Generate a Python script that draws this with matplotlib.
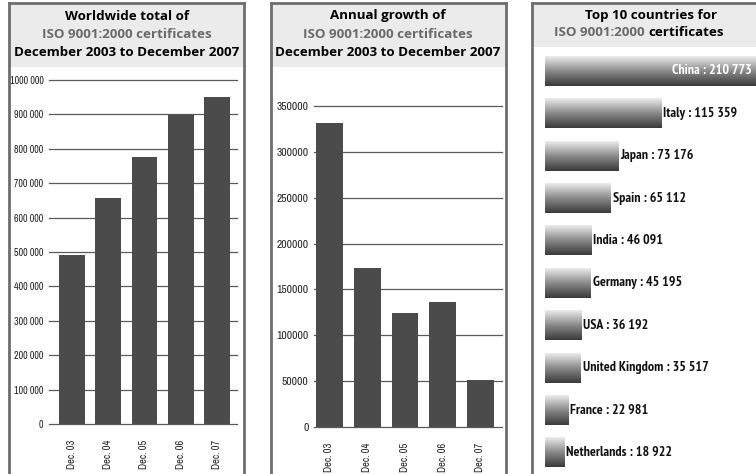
import matplotlib.pyplot as plt
from matplotlib import font_manager as fm
from matplotlib.patches import Rectangle
from matplotlib.lines import Line2D
from matplotlib.colors import LinearSegmentedColormap
import numpy as np

# data
years = ["Dec. 03", "Dec. 04", "Dec. 05", "Dec. 06", "Dec. 07"]
total_certs = [492000, 658000, 776000, 898000, 950000]
growth_certs = [332000, 173000, 124000, 136000, 51000]

countries = ["China", "Italy", "Japan", "Spain", "India", "Germany", "USA",
             "United Kingdom", "France", "Netherlands"]
country_certs = [210773, 115359, 73176, 65112, 46091, 45195, 36192, 35517, 22981, 18922]
country_labels = ["210 773", "115 359", "73 176", "65 112", "46 091",
                  "45 195", "36 192", "35 517", "22 981", "18 922"]

total_ticks = [0, 100000, 200000, 300000, 400000, 500000, 600000, 700000, 800000, 900000, 1000000]
total_tick_labels = ["0", "100 000", "200 000", "300 000", "400 000", "500 000",
                     "600 000", "700 000", "800 000", "900 000", "1000 000"]
growth_ticks = [0, 50000, 100000, 150000, 200000, 250000, 300000, 350000]
growth_tick_labels = ["0", "50000", "100000", "150000", "200000", "250000", "300000", "350000"]

W, H = 756, 474
TITLE_FONT = ["Open Sans", "DejaVu Sans"]
BAR = "#4b4b4b"
GREY_TXT = "#6a6a6a"


def narrow_font(bold, size):
    # look for a condensed face among the installed fonts
    found = {}
    for f in fm.fontManager.ttflist:
        w = f.weight if isinstance(f.weight, int) else {"bold": 700, "normal": 400}.get(f.weight, 400)
        if f.style != "normal":
            continue
        if (w >= 600) != bold:
            continue
        key = None
        if "Narrow" in f.name or "Narrow" in f.fname:
            key = 0
        elif "Condensed" in f.fname or "condensed" in str(f.stretch):
            key = 1
        if key is not None and key not in found:
            found[key] = f.fname
    if found:
        return fm.FontProperties(fname=found[min(found)], size=size)
    return fm.FontProperties(family="Roboto", weight="bold" if bold else "normal", size=size * 0.9)


def px(x0, y0, x1, y1):
    return [x0 / W, 1 - y1 / H, (x1 - x0) / W, (y1 - y0) / H]


def fx(x):
    return x / W


def fy(y):
    return 1 - y / H


fig = plt.figure(figsize=(W / 100, H / 100), dpi=100)
fig.patch.set_facecolor("white")


def panel(x0, x1, band_bottom):
    # grey title band and the frame around a panel
    fig.add_artist(Rectangle((fx(x0), fy(band_bottom)), fx(x1) - fx(x0), fy(3) - fy(band_bottom),
                             transform=fig.transFigure, facecolor="#ebebeb", edgecolor="none", zorder=0))
    for xs, ys in [((x0, x0), (3, H + 5)), ((x1, x1), (3, H + 5)), ((x0, x1), (3, 3))]:
        fig.add_artist(Line2D([fx(v) for v in xs], [fy(v) for v in ys], transform=fig.transFigure,
                              color="#6e6e6e", lw=2, zorder=5))


def title(xc, lines):
    for y, txt, col in lines:
        fig.text(fx(xc), fy(y), txt, ha="center", va="center", color=col,
                 family=TITLE_FONT, weight="bold", fontsize=9.6)


def column_chart(rect, values, ticks, tick_labels, xlim, ysize):
    ax = fig.add_axes(rect)
    x = np.arange(len(values))
    ax.bar(x, values, width=0.71, color=BAR, zorder=3)
    ax.set_xlim(*xlim)
    ax.set_ylim(0, ticks[-1])
    ax.set_yticks(ticks)
    ax.set_yticklabels(tick_labels, fontproperties=narrow_font(False, ysize), color="#222222")
    ax.set_xticks(x)
    ax.set_xticklabels(years, rotation=90, fontproperties=narrow_font(False, 7.5),
                       color="#222222", va="top", ha="center")
    ax.tick_params(axis="y", length=0, pad=4)
    ax.tick_params(axis="x", length=0, pad=11)
    for t in ticks:
        ax.axhline(t, color="#5a5a5a", lw=0.9, zorder=1, clip_on=False)
    for s in ax.spines.values():
        s.set_visible(False)
    ax.patch.set_alpha(0)
    return ax


# panel 1: worldwide total
panel(9, 244, 67)
title(127, [(16, "Worldwide total of", "black"),
            (34, "ISO 9001:2000 certificates", GREY_TXT),
            (52, "December 2003 to December 2007", "black")])
column_chart(px(49, 80, 237, 424), total_certs, total_ticks, total_tick_labels, (-0.63, 4.55), 7.2)

# panel 2: annual growth
panel(271, 506, 67)
title(388, [(16, "Annual growth of", "black"),
            (34, "ISO 9001:2000 certificates", GREY_TXT),
            (52, "December 2003 to December 2007", "black")])
column_chart(px(314, 106, 502, 427), growth_certs, growth_ticks, growth_tick_labels, (-0.41, 4.57), 8.3)

# panel 3: top 10 countries
panel(532, 790, 47)
fig.text(fx(651), fy(15), "Top 10 countries for", ha="center", va="center",
         family=TITLE_FONT, weight="bold", fontsize=9.6)
fig.text(fx(645), fy(33), "ISO 9001:2000", ha="right", va="center", color=GREY_TXT,
         family=TITLE_FONT, weight="bold", fontsize=9.6)
fig.text(fx(648), fy(33), "certificates", ha="left", va="center", color="black",
         family=TITLE_FONT, weight="bold", fontsize=9.6)

ax3 = fig.add_axes(px(545, 50, 757, 474))
grad = LinearSegmentedColormap.from_list("bargrad", ["#ececec", "#8a8a8a", "#3a3a3a"])
g = np.linspace(0, 1, 64).reshape(-1, 1)
bh = 0.7
label_font = narrow_font(True, 10)
for i, (name, v, lab) in enumerate(zip(countries, country_certs, country_labels)):
    ax3.imshow(g, cmap=grad, aspect="auto", extent=(0, v, i + bh / 2, i - bh / 2),
               interpolation="bilinear", zorder=2)
    txt = f"{name} : {lab}"
    if i == 0:
        ax3.annotate(txt, (v, i), xytext=(-4, 0), textcoords="offset points", ha="right",
                     va="center", color="white", fontproperties=label_font)
    else:
        ax3.annotate(txt, (v, i), xytext=(1.5, 0), textcoords="offset points", ha="left",
                     va="center", color="#111111", fontproperties=label_font)
ax3.set_xlim(0, 210773)
ax3.set_ylim(9.505, -0.495)
ax3.axis("off")

fig.savefig("out.png", dpi=100)
